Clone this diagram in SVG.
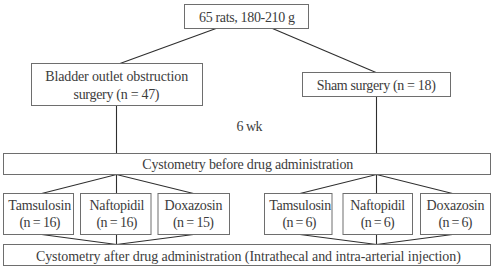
<svg xmlns="http://www.w3.org/2000/svg" width="493" height="280" viewBox="0 0 493 280">
<style>
.box{fill:#fff;stroke:#6e6e6e;stroke-width:1}
.t{font-family:"Liberation Serif","Times New Roman",serif;font-size:14px;fill:#3c3c3c;text-anchor:middle}
.c{stroke:#2e2e2e;stroke-width:1.1;fill:none}
</style>
<rect width="493" height="280" fill="#fff"/>
<g id="connectors">
<line class="c" x1="216" y1="28.5" x2="120" y2="63.5"/>
<line class="c" x1="272.5" y1="28.5" x2="376" y2="72.5"/>
<line class="c" x1="116.5" y1="105.5" x2="116.5" y2="153.5"/>
<line class="c" x1="376.5" y1="96.5" x2="376.5" y2="153.5"/>
<polyline class="c" points="41.7,193.5 116.5,174.5 193.5,193.5"/>
<line class="c" x1="116.5" y1="174.5" x2="116.5" y2="193.5"/>
<polyline class="c" points="300,193.5 376.5,174.5 452.5,193.5"/>
<line class="c" x1="376.5" y1="174.5" x2="376.5" y2="193.5"/>
<polyline class="c" points="41.7,234.5 116.5,244.5 193.5,234.5"/>
<line class="c" x1="116.5" y1="234.5" x2="116.5" y2="244.5"/>
<polyline class="c" points="300,234.5 376.5,244.5 452.5,234.5"/>
<line class="c" x1="376.5" y1="234.5" x2="376.5" y2="244.5"/>
</g>
<g id="n-rats"><rect class="box" x="184.5" y="4.5" width="124" height="24"/><text class="t" x="247" y="21.5" textLength="96">65 rats, 180-210 g</text></g>
<g id="n-boo"><rect class="box" x="31.5" y="63.5" width="171" height="42"/><text class="t" x="116.7" y="80.5" textLength="143">Bladder outlet obstruction</text><text class="t" x="116.5" y="98.5" textLength="86">surgery (n = 47)</text></g>
<g id="n-sham"><rect class="box" x="302.5" y="72.5" width="148" height="24"/><text class="t" x="376.3" y="89.5" textLength="119">Sham surgery (n = 18)</text></g>
<g id="n-6wk"><text class="t" x="249.5" y="131" textLength="26">6 wk</text></g>
<g id="n-before"><rect class="box" x="3.5" y="153.5" width="487" height="21"/><text class="t" x="247.8" y="168.5" textLength="211">Cystometry before drug administration</text></g>
<g id="n-tam1"><rect class="box" x="3.5" y="193.5" width="70" height="41"/><text class="t" x="39.7" y="210" textLength="63">Tamsulosin</text><text class="t" x="40" y="227" textLength="41">(n = 16)</text></g>
<g id="n-naf1"><rect class="box" x="80.5" y="193.5" width="70.5" height="41"/><text class="t" x="117" y="210" textLength="55">Naftopidil</text><text class="t" x="117" y="227" textLength="41">(n = 16)</text></g>
<g id="n-dox1"><rect class="box" x="158" y="193.5" width="71.5" height="41"/><text class="t" x="193.5" y="210" textLength="58">Doxazosin</text><text class="t" x="193.5" y="227" textLength="41">(n = 15)</text></g>
<g id="n-tam2"><rect class="box" x="264.5" y="193.5" width="67.5" height="41"/><text class="t" x="300.2" y="210" textLength="62">Tamsulosin</text><text class="t" x="299.5" y="227" textLength="34">(n = 6)</text></g>
<g id="n-naf2"><rect class="box" x="343" y="193.5" width="69.5" height="41"/><text class="t" x="377.7" y="210" textLength="55">Naftopidil</text><text class="t" x="377.7" y="227" textLength="34">(n = 6)</text></g>
<g id="n-dox2"><rect class="box" x="420.5" y="193.5" width="70" height="41"/><text class="t" x="455.5" y="210" textLength="58">Doxazosin</text><text class="t" x="455.5" y="227" textLength="34">(n = 6)</text></g>
<g id="n-after"><rect class="box" x="3.5" y="244.5" width="487" height="21"/><text class="t" x="248.4" y="260.5" textLength="425">Cystometry after drug administration (Intrathecal and intra-arterial injection)</text></g>
</svg>
